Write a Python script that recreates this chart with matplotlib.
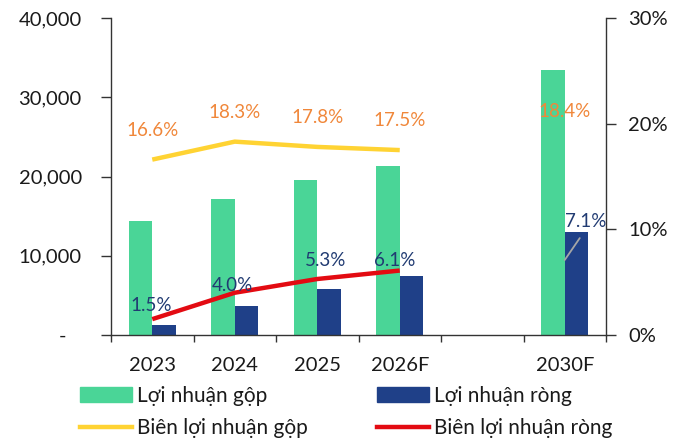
import numpy as np
import matplotlib
matplotlib.use("Agg")
import matplotlib.pyplot as plt
from matplotlib.lines import Line2D
from matplotlib.patches import Patch
from matplotlib.ticker import FuncFormatter

plt.rcParams['font.family'] = ['Lato', 'DejaVu Sans']

# ---------------- data ----------------
categories = ['2023', '2024', '2025', '2026F', '', '2030F']
gross_profit = [14400, 17100, 19500, 21300, np.nan, 33400]
net_profit = [1300, 3700, 5800, 7400, np.nan, 13000]
gross_margin = [16.6, 18.3, 17.8, 17.5, np.nan, 18.4]
net_margin = [1.5, 4.0, 5.3, 6.1, np.nan, 7.1]
left_ticks = [0, 10000, 20000, 30000, 40000]
right_ticks = [0, 10, 20, 30]
legend_labels = ['Lợi nhuận gộp', 'Lợi nhuận ròng', 'Biên lợi nhuận gộp', 'Biên lợi nhuận ròng']

# ---------------- style ----------------
C_GREEN = '#4AD597'
C_BLUE = '#1F4088'
C_YELLOW = '#FFD333'
C_RED = '#E30B12'
C_ORANGE = '#F0873A'
C_NAVY = '#213B72'
C_TEXT = '#1A1A1A'
# label offsets (points) for the net-margin labels
net_offsets = [(-1, 10), (-2, 5), (6, 13), (-4, 7)]
leader_offset = (15, 28)

fig = plt.figure(figsize=(6.84, 4.41), dpi=100)
ax = fig.add_axes([111/684, 1-335/441, 495/684, 317/441])
ax2 = ax.twinx()

x = np.arange(len(categories))
w = 0.285
gp = np.array(gross_profit, dtype=float)
npf = np.array(net_profit, dtype=float)
ax.bar(x - w/2, np.nan_to_num(gp), width=w, color=C_GREEN, zorder=2)
ax.bar(x + w/2, np.nan_to_num(npf), width=w, color=C_BLUE, zorder=2)

ax.set_xlim(-0.5, len(categories) - 0.5)
ax.set_ylim(0, 40000)
ax.set_yticks(left_ticks)
ax.yaxis.set_major_formatter(FuncFormatter(lambda v, p: '-   ' if v == 0 else f'{int(v):,}'))
ax.set_xticks(x)
ax.set_xticklabels(categories)
ax.set_xticks(np.arange(-0.5, len(categories), 1), minor=True)
ax.tick_params(axis='x', which='major', length=0, pad=16, labelsize=14.5, colors=C_TEXT)
ax.tick_params(axis='x', which='minor', length=5, width=1, color='#333333')
ax.tick_params(axis='y', length=7, width=1, pad=14, labelsize=14.5, colors=C_TEXT, color='#333333')

gm = np.array(gross_margin, dtype=float)
nm = np.array(net_margin, dtype=float)
ax2.plot(x, gm / 100, color=C_YELLOW, lw=3.2, solid_capstyle='butt', zorder=3)
ax2.plot(x, nm / 100, color=C_RED, lw=3.2, solid_capstyle='butt', zorder=3)
ax2.set_ylim(0, 0.30)
ax2.set_yticks([t / 100 for t in right_ticks])
ax2.set_yticklabels([f'{t}%' for t in right_ticks])
ax2.tick_params(axis='y', length=7, width=1, pad=9, labelsize=14.5, colors=C_TEXT, color='#333333')

for a in (ax, ax2):
    a.spines['top'].set_visible(False)
    for s in ('left', 'right', 'bottom'):
        a.spines[s].set_color('#333333')
        a.spines[s].set_linewidth(1)
ax.spines['right'].set_visible(False)
ax2.spines['left'].set_visible(False)
ax2.spines['bottom'].set_visible(False)

for i, v in enumerate(gross_margin):
    if np.isnan(v):
        continue
    ax2.annotate(f'{v:.1f}%', (x[i], v / 100), xytext=(0, 21), textcoords='offset points',
                 ha='center', va='center', fontsize=13.5, color=C_ORANGE, zorder=5)

k = 0
for i, v in enumerate(net_margin):
    if np.isnan(v):
        continue
    if i == len(net_margin) - 1:
        ax2.annotate(f'{v:.1f}%', (x[i], v / 100), xytext=leader_offset, textcoords='offset points',
                     ha='center', va='center', fontsize=13.5, color=C_NAVY, zorder=5,
                     arrowprops=dict(arrowstyle='-', color='#A6A6A6', lw=1.3,
                                     relpos=(0.5, 0.0), shrinkA=5, shrinkB=0))
    else:
        ax2.annotate(f'{v:.1f}%', (x[i], v / 100), xytext=net_offsets[k], textcoords='offset points',
                     ha='center', va='center', fontsize=13.5, color=C_NAVY, zorder=5)
        k += 1

handles = [Patch(color=C_GREEN), Line2D([], [], color=C_YELLOW, lw=3.2),
           Patch(color=C_BLUE), Line2D([], [], color=C_RED, lw=3.2)]
labels = [legend_labels[0], legend_labels[2], legend_labels[1], legend_labels[3]]
fig.legend(handles, labels, ncol=2, loc='upper left', bbox_to_anchor=(80/684, 1-386/441),
           frameon=False, fontsize=15, handlelength=2.5, handletextpad=0.25,
           columnspacing=3.3, labelspacing=0.6, borderpad=0, borderaxespad=0,
           labelcolor=C_TEXT)

fig.savefig('out.png', dpi=100)
